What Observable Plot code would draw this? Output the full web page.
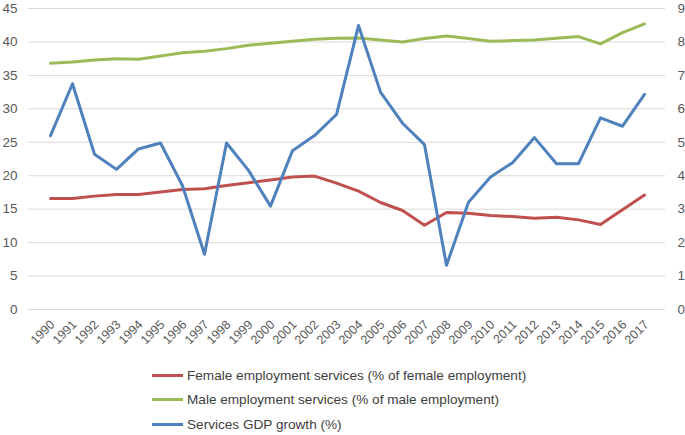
<!DOCTYPE html>
<html>
<head>
<meta charset="utf-8">
<script src="https://cdn.jsdelivr.net/npm/d3@7"></script>
<script src="https://cdn.jsdelivr.net/npm/@observablehq/plot@0.6"></script>
<style>
  html, body { margin: 0; padding: 0; background: #fff; }
  body { width: 685px; height: 435px; overflow: hidden; font-family: "Liberation Sans", Arial, sans-serif; }
  #legend { position: absolute; left: 152px; top: 363px; font-size: 13.6px; color: #404040; }
  .item { display: flex; align-items: center; height: 24.5px; }
  .sw { width: 31px; height: 3px; margin-right: 4px; }
</style>
</head>
<body>
<div id="chart"></div>
<div id="legend"></div>
<script>
const years = d3.range(1990, 2018).map(String);
const female = [16.6, 16.6, 16.95, 17.2, 17.2, 17.55, 17.95, 18.05, 18.55, 18.95, 19.35, 19.8, 19.95, 18.9,
                17.7, 16.0, 14.8, 12.6, 14.5, 14.4, 14.05, 13.9, 13.65, 13.8, 13.4, 12.7, 14.9, 17.1];
const male = [36.8, 37.0, 37.3, 37.5, 37.4, 37.9, 38.4, 38.6, 39.0, 39.5, 39.8, 40.1, 40.4, 40.55,
              40.6, 40.3, 40.0, 40.5, 40.9, 40.5, 40.1, 40.2, 40.3, 40.55, 40.8, 39.7, 41.4, 42.7];
const gdpGrowth = [5.2, 6.75, 4.64, 4.19, 4.8, 4.98, 3.7, 1.65, 4.98, 4.16, 3.09, 4.75, 5.2, 5.83,
                   8.49, 6.5, 5.57, 4.93, 1.32, 3.21, 3.96, 4.39, 5.14, 4.36, 4.36, 5.73, 5.48, 6.43];
const seriesNames = [
  "Female employment services (% of female employment)",
  "Male employment services (% of male employment)",
  "Services GDP growth (%)"
];
const colors = ["#c0504d", "#9bbb59", "#4f81bd"];
const leftTicks = d3.range(0, 46, 5);
const rightTicks = d3.range(0, 10, 1);
const ratio = 5; // right axis 0-9 maps to left axis 0-45

const femaleData = years.map((y, i) => ({year: y, v: female[i]}));
const maleData = years.map((y, i) => ({year: y, v: male[i]}));
const gdpData = years.map((y, i) => ({year: y, v: gdpGrowth[i]}));

const chart = Plot.plot({
  width: 685,
  height: 360,
  marginLeft: 28,
  marginRight: 20,
  marginTop: 8,
  marginBottom: 51,
  style: {fontFamily: "Liberation Sans, Arial, sans-serif", fontSize: "13px", color: "#595959", background: "#fff"},
  x: {type: "point", domain: years, padding: 0.5},
  y: {domain: [0, 45]},
  marks: [
    Plot.gridY(leftTicks, {stroke: "#d9d9d9", strokeOpacity: 1, strokeWidth: 1}),
    Plot.axisY(leftTicks, {anchor: "left", tickSize: 0, tickPadding: 11, fontSize: 13.5, label: null}),
    Plot.axisY(rightTicks.map(d => d * ratio), {anchor: "right", tickSize: 0, tickPadding: 12, fontSize: 13.5, label: null, tickFormat: d => d / ratio}),
    Plot.axisX({tickSize: 0, tickRotate: -45, tickPadding: 13, dx: 2, fontSize: 12.5, label: null}),
    Plot.lineY(femaleData, {x: "year", y: "v", stroke: colors[0], strokeWidth: 3}),
    Plot.lineY(maleData, {x: "year", y: "v", stroke: colors[1], strokeWidth: 3}),
    Plot.lineY(gdpData, {x: "year", y: d => d.v * ratio, stroke: colors[2], strokeWidth: 3})
  ]
});
document.getElementById("chart").appendChild(chart);

const legend = document.getElementById("legend");
seriesNames.forEach((name, i) => {
  const item = document.createElement("div");
  item.className = "item";
  const sw = document.createElement("span");
  sw.className = "sw";
  sw.style.background = colors[i];
  const label = document.createElement("span");
  label.textContent = name;
  item.appendChild(sw);
  item.appendChild(label);
  legend.appendChild(item);
});
</script>
</body>
</html>
